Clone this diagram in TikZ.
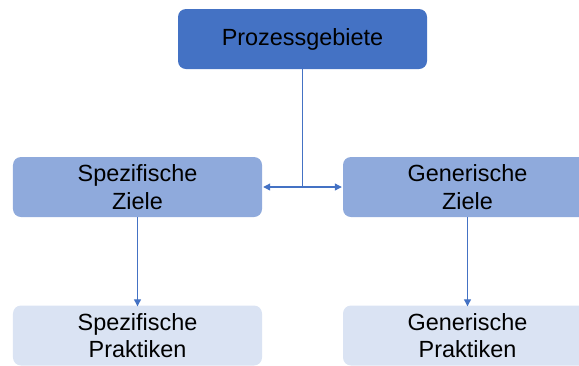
\documentclass[tikz,border=0pt]{standalone}
\usepackage{fontspec}
\setmainfont{Liberation Sans}
\usetikzlibrary{arrows.meta}
\definecolor{topblue}{HTML}{4472C4}
\definecolor{midblue}{HTML}{8FAADC}
\definecolor{lightblue}{HTML}{DAE3F3}
\definecolor{linkblue}{HTML}{4472C4}
\begin{document}
\begin{tikzpicture}[x=1bp,y=-1bp,
  box/.style={rounded corners=8bp, minimum width=249bp, minimum height=60bp,
    inner sep=0pt, align=center, font=\fontsize{23.5}{27.5}\selectfont, text=black},
  level0/.style={box, fill=topblue},
  level1/.style={box, fill=midblue},
  level2/.style={box, fill=lightblue},
  link/.style={draw=linkblue, line width=1.1bp},
  tip/.style={-{Triangle[length=7bp,width=7bp]}}]
\useasboundingbox (0,0) rectangle (579,365);
\node[level0] (pg) at (302.5,39) {Prozessgebiete};
\node[level1] (sz) at (137.5,187) {Spezifische\\Ziele};
\node[level1] (gz) at (467.5,187) {Generische\\Ziele};
\node[level2] (sp) at (137.5,335.5) {Spezifische\\Praktiken};
\node[level2] (gp) at (467.5,335.5) {Generische\\Praktiken};
\coordinate (fork) at (302.5,187);
\draw[link] (pg.south) -- (fork);
\draw[link,tip] (fork) -- ([xshift=1bp]sz.east);
\draw[link,tip] (fork) -- ([xshift=-1bp]gz.west);
\draw[link,tip] (sz.south) -- ([yshift=-1bp]sp.north);
\draw[link,tip] (gz.south) -- ([yshift=-1bp]gp.north);
\end{tikzpicture}
\end{document}
